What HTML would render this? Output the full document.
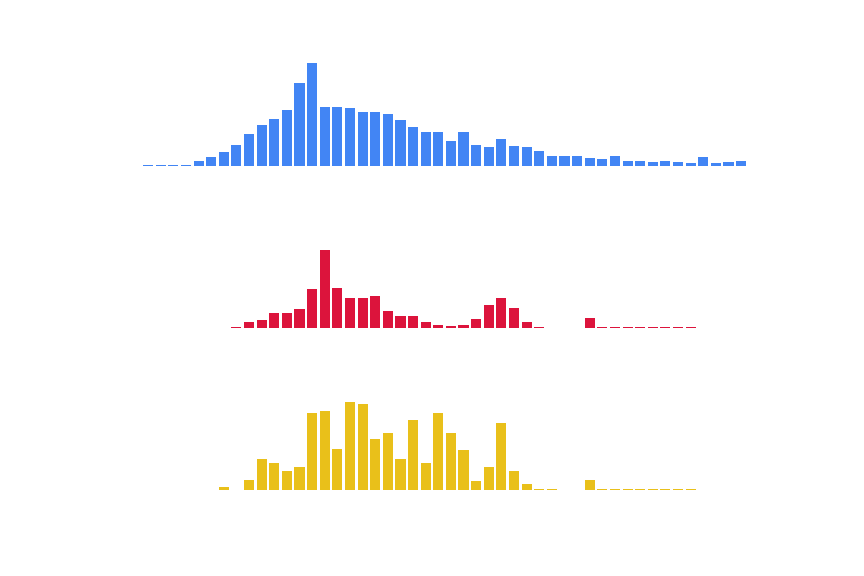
<!DOCTYPE html>
<html lang="en">
<head>
<meta charset="utf-8">
<title>Stacked bar small multiples</title>
<style>
  html, body { margin: 0; padding: 0; background: #ffffff; }
  body { width: 864px; height: 576px; overflow: hidden; font-family: "Liberation Sans", sans-serif; }
  svg { display: block; }
</style>
</head>
<body>
<svg id="chart" xmlns="http://www.w3.org/2000/svg" width="864" height="576" viewBox="0 0 864 576" shape-rendering="crispEdges">
  <rect x="0" y="0" width="864" height="576" fill="#ffffff"></rect>
</svg>
<script>
// Bin indices 0..47; null means no bar is drawn for that bin.
const bins = [0,1,2,3,4,5,6,7,8,9,10,11,12,13,14,15,16,17,18,19,20,21,22,23,24,25,26,27,28,29,30,31,32,33,34,35,36,37,38,39,40,41,42,43,44,45,46,47];
const blueValues = [1,1,1,1,5,9,14,21,32,41,47,56,83,103,59,59,58,54,54,52,46,39,34,34,25,34,21,19,27,20,19,15,10,10,10,8,7,10,5,5,4,5,4,3,9,3,4,5];
const redValues = [null,null,null,null,null,null,null,1,6,8,15,15,19,39,78,40,30,30,32,17,12,12,6,3,2,3,9,23,30,20,6,1,null,null,null,10,1,1,1,1,1,1,1,1,null,null,null,null];
const yellowValues = [null,null,null,null,null,null,3,null,10,31,27,19,23,77,79,41,88,86,51,57,31,70,27,77,57,40,9,23,67,19,6,1,1,null,null,10,1,1,1,1,1,1,1,1,null,null,null,null];

const svgNS = 'http://www.w3.org/2000/svg';
const svg = document.getElementById('chart');

function xScale(bin) {
  return 143.06 + bin * 12.617;
}

function makeYScale(baseline) {
  return function (value) {
    return baseline - value;
  };
}

function drawPanel(panelName, barName, values, baseline, color) {
  const yScale = makeYScale(baseline);
  const group = document.createElementNS(svgNS, 'g');
  
  
  svg.appendChild(group);
  values.forEach(function (value, i) {
    if (value === null) return;
    const left = Math.round(xScale(bins[i]));
    const right = Math.round(xScale(bins[i]) + 10.105);
    const top = Math.round(yScale(value));
    const rect = document.createElementNS(svgNS, 'rect');
    rect.setAttribute('x', left);
    rect.setAttribute('y', top);
    rect.setAttribute('width', right - left);
    rect.setAttribute('height', baseline - top);
    rect.setAttribute('fill', color);
    
    
    group.appendChild(rect);
  });
}

drawPanel('blue-bars-panel', 'blue-bar', blueValues, 166, '#4285f4');
drawPanel('red-bars-panel', 'red-bar', redValues, 328, '#dc143c');
drawPanel('yellow-bars-panel', 'yellow-bar', yellowValues, 490, '#e9c01a');
</script>
</body>
</html>
